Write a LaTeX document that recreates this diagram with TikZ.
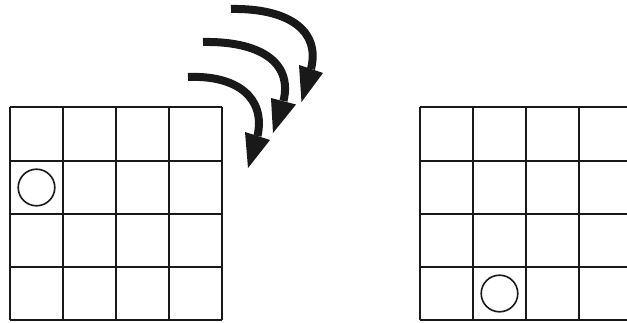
\documentclass[tikz,border=0pt]{standalone}
\begin{document}
\begin{tikzpicture}[x=1pt,y=-1pt,
  gridline/.style={line width=2pt,draw=black!90},
  token/.style={line width=1.6pt,draw=black!90},
  shaft/.style={line width=8pt,line cap=butt,draw=black!90},
  head/.style={fill=black!90}]
\useasboundingbox (0,0) rectangle (627,323);
\clip (0,0) rectangle (627,323);
% left board
\foreach \i in {0,...,4}{
  \draw[gridline] (10+53*\i,107.5) -- (10+53*\i,320);
  \draw[gridline] (10,107.5+53.125*\i) -- (222,107.5+53.125*\i);
}
\draw[token] (36.5,187.5) circle (18.3);
% right board
\foreach \i in {0,...,4}{
  \draw[gridline] (420+53*\i,107.5) -- (420+53*\i,320);
  \draw[gridline] (420,107.5+53.125*\i) -- (640,107.5+53.125*\i);
}
\draw[token] (499.5,293.5) circle (18.3);
% arrows
\coordinate (t1) at (231,9);   \coordinate (m1) at (311,69);
\coordinate (t2) at (203,42);  \coordinate (m2) at (283.5,101);
\coordinate (t3) at (188,77);  \coordinate (m3) at (257.5,136);
\draw[shaft] (t1) .. controls (286,8) and (321,29) .. (m1);
\fill[head] (299,65) -- (323,73) -- (301.5,102) -- cycle;
\draw[shaft] (t2) .. controls (258,41) and (293,61) .. (m2);
\fill[head] (271,98) -- (296,104.5) -- (273,133) -- cycle;
\draw[shaft] (t3) .. controls (236,75) and (266,97) .. (m3);
\fill[head] (245,132) -- (270,140) -- (248,168) -- cycle;
\end{tikzpicture}
\end{document}
